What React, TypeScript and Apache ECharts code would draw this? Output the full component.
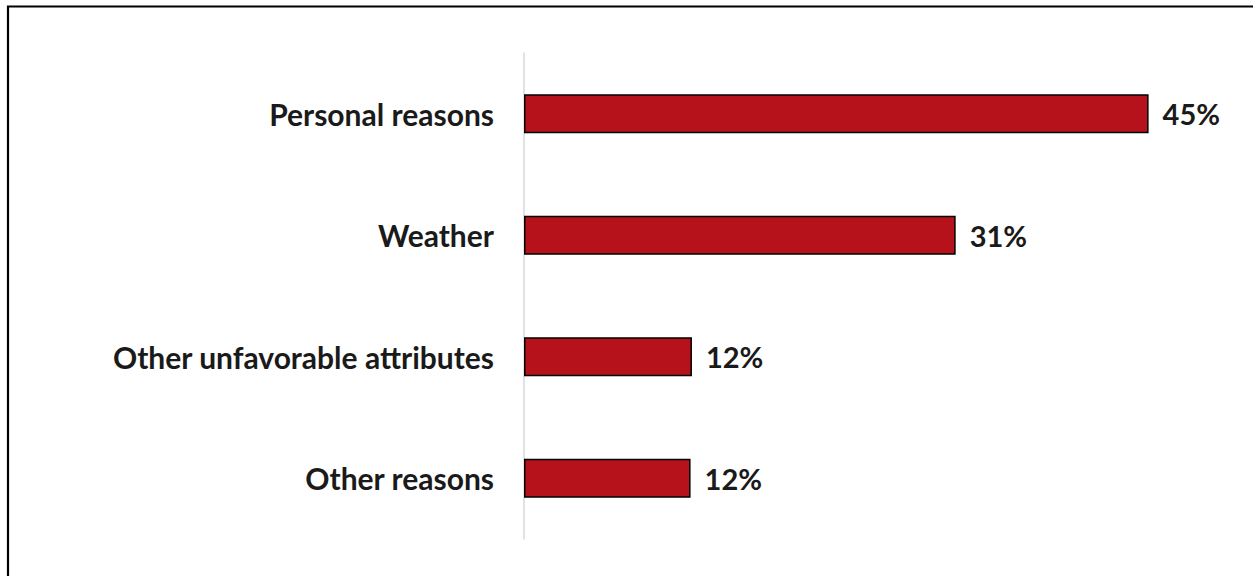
import React, { useEffect, useRef } from "react";
import * as echarts from "echarts";

const categories = ["Personal reasons", "Weather", "Other unfavorable attributes", "Other reasons"];
const values = [45, 31.1, 12.1, 12.0];

export default function App() {
  const ref = useRef<HTMLDivElement>(null);
  useEffect(() => {
    const chart = echarts.init(ref.current!, null, { renderer: "svg" });
    chart.setOption({
      animation: false,
      backgroundColor: "#ffffff",
      graphic: [
        {
          type: "rect",
          shape: { x: 8, y: 6.5, width: 1400, height: 700 },
          style: { fill: "none", stroke: "#000", lineWidth: 2.2 },
          silent: true,
        },
      ],
      grid: { left: 524, top: 53, bottom: 37, width: 694 },
      xAxis: {
        type: "value",
        min: 0,
        max: 50,
        show: false,
      },
      yAxis: {
        type: "category",
        data: categories,
        inverse: true,
        axisLine: { show: true, lineStyle: { color: "#d9d9d9", width: 1.5 } },
        axisTick: { show: false },
        axisLabel: {
          margin: 30,
          fontFamily: "Lato",
          fontWeight: "bold",
          fontSize: 30,
          color: "#1a1a1a",
        },
      },
      series: [
        {
          type: "bar",
          data: values,
          barWidth: 39,
          itemStyle: { color: "#B5121B", borderColor: "#000", borderWidth: 1.5 },
          label: {
            show: true,
            position: "right",
            distance: 14,
            formatter: (p: any) => Math.round(p.value) + "%",
            fontFamily: "Lato",
            fontWeight: "bold",
            fontSize: 29,
            color: "#1a1a1a",
          },
        },
      ],
    });
    return () => chart.dispose();
  }, []);
  return (
    <div
      ref={ref}
      style={{ position: "absolute", left: 0, top: 0, width: 1253, height: 576 }}
    />
  );
}
